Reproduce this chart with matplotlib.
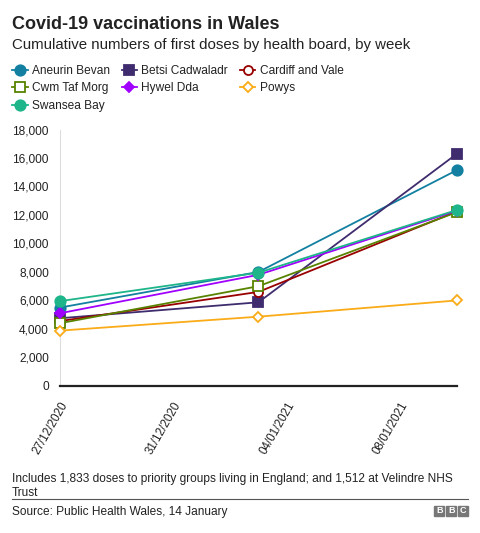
import numpy as np
import pandas as pd
import matplotlib
matplotlib.use("Agg")
import matplotlib.pyplot as plt
import matplotlib.dates as mdates
from matplotlib.patches import Rectangle

plt.rcParams['font.family'] = ['Liberation Sans', 'DejaVu Sans']

weeks = pd.to_datetime(["2020-12-27", "2021-01-03", "2021-01-10"])
tick_dates = pd.to_datetime(["2020-12-27", "2020-12-31", "2021-01-04", "2021-01-08"])

boards = ["Aneurin Bevan", "Betsi Cadwaladr", "Cardiff and Vale",
          "Cwm Taf Morg", "Hywel Dda", "Powys", "Swansea Bay"]
aneurin_bevan = [5500, 8000, 15150]
betsi_cadwaladr = [4750, 5870, 16300]
cardiff_and_vale = [4550, 6600, 12250]
cwm_taf_morg = [4400, 7000, 12200]
hywel_dda = [5100, 7800, 12300]
powys = [3880, 4860, 6000]
swansea_bay = [5950, 7950, 12350]
series = [aneurin_bevan, betsi_cadwaladr, cardiff_and_vale, cwm_taf_morg,
          hywel_dda, powys, swansea_bay]

# colour, marker, filled
styles = [("#1380A1", "o", True), ("#3F2C6E", "s", True), ("#990000", "o", False),
          ("#588300", "s", False), ("#A000FF", "D", True), ("#FAAB18", "D", False),
          ("#1DB589", "o", True)]
sizes = [7.5, 7, 6.5, 7, 5.5, 5.5, 7.5]

fig = plt.figure(figsize=(4.8, 5.33), dpi=100)
ax = fig.add_axes([0.125, 0.276, 0.827, 0.481])

handles = []
for name, vals, (c, m, filled), ms in zip(boards, series, styles, sizes):
    h, = ax.plot(weeks, vals, color=c, marker=m, ms=ms, lw=1.3,
                 mfc=c if filled else "white", mec=c, mew=1.3, label=name,
                 clip_on=False, zorder=3)
    handles.append(h)

ax.set_xlim(weeks[0], weeks[-1])
ax.set_ylim(0, 18000)
ax.set_yticks(np.arange(0, 18001, 2000))
ax.set_yticklabels([f"{v:,}" for v in range(0, 18001, 2000)])
ax.set_xticks(tick_dates)
ax.xaxis.set_major_formatter(mdates.DateFormatter("%d/%m/%Y"))
plt.setp(ax.get_xticklabels(), rotation=60, ha="right", rotation_mode="anchor")
ax.tick_params(axis="y", length=0, labelsize=8.6, colors="#222222", pad=8)
ax.tick_params(axis="x", length=0, labelsize=8.4, colors="#222222", pad=10)

for s in ["top", "right"]:
    ax.spines[s].set_visible(False)
ax.spines["left"].set_color("#dddddd")
ax.spines["left"].set_linewidth(0.8)
ax.spines["bottom"].set_color("#222222")
ax.spines["bottom"].set_linewidth(1.6)

# legend, reordered so it reads row by row
order = [0, 3, 6, 1, 4, 2, 5]
fig.legend([handles[i] for i in order], [boards[i] for i in order],
           ncol=3, loc="upper left", bbox_to_anchor=(0.025, 0.878),
           frameon=False, fontsize=8.6, handlelength=1.3, handletextpad=0.35,
           columnspacing=1.0, labelspacing=0.45, borderaxespad=0, borderpad=0,
           labelcolor="#222222")

fig.text(0.025, 0.946, "Covid-19 vaccinations in Wales", fontsize=13,
         fontweight="bold", color="#222222", va="baseline")
fig.text(0.025, 0.908, "Cumulative numbers of first doses by health board, by week",
         fontsize=10.8, color="#222222", va="baseline")

fig.text(0.025, 0.070, "Includes 1,833 doses to priority groups living in England; and 1,512 at Velindre NHS\nTrust",
         fontsize=8.6, color="#222222", va="baseline", linespacing=1.2)
fig.add_artist(plt.Line2D([0.025, 0.975], [0.063, 0.063], color="#555555", lw=0.8))
fig.text(0.025, 0.034, "Source: Public Health Wales, 14 January", fontsize=8.6,
         color="#222222", va="baseline")

for i, letter in enumerate("BBC"):
    x0 = 0.905 + i * 0.0245
    fig.add_artist(Rectangle((x0, 0.032), 0.021, 0.019, transform=fig.transFigure,
                             color="#777777"))
    fig.text(x0 + 0.0105, 0.0415, letter, color="white", fontsize=6.5,
             fontweight="bold", ha="center", va="center")

fig.savefig("out.png", dpi=100)
